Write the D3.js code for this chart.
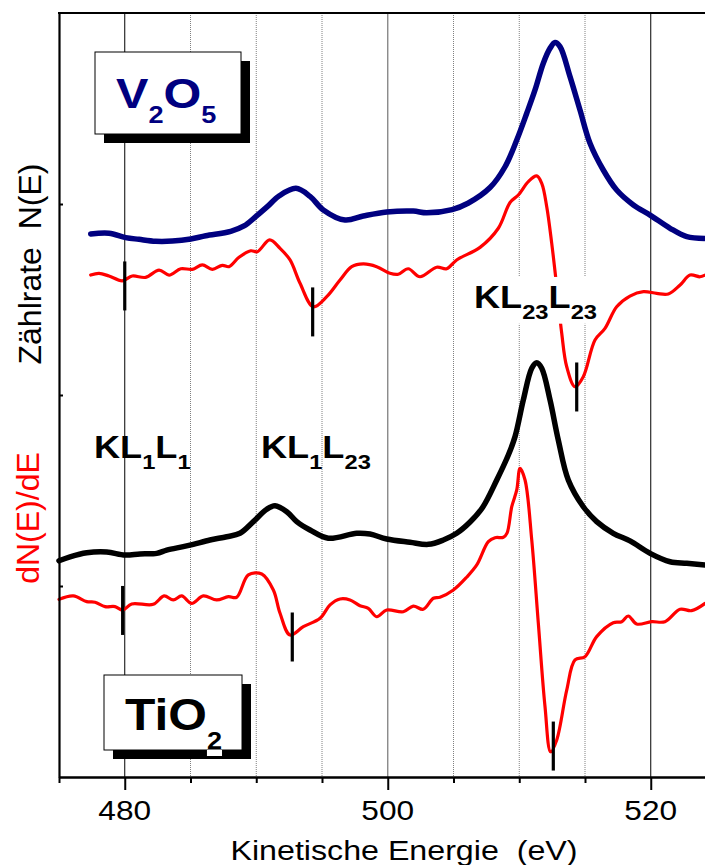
<!DOCTYPE html>
<html><head><meta charset="utf-8">
<script src="https://cdn.jsdelivr.net/npm/d3@7"></script>
<style>
html,body{margin:0;padding:0;background:#fff;}
svg{display:block;font-family:"Liberation Sans",Arial,sans-serif;}
</style></head><body>
<svg id="chart" width="705" height="865"></svg>
<script>
// ---------- data ----------
const xDomain = [475, 525];
const yDomain = [0, 4];
const majorTicks = [480, 500, 520];
const minorTicks = [475, 485, 490, 495, 505, 510, 515, 525];
const yTicks = [1, 2, 3];
const gridSolidBlack = [480, 520];
const gridSolidGray = [500];
const gridDotted = [485, 490, 495, 505, 510, 515];

// V2O5 N(E)  [energy eV, counts a.u.]
const v2o5Counts = [
 [477.41,2.843],[478.80,2.847],[480.07,2.824],[481.08,2.815],[482.35,2.805],[483.62,2.806],
 [485.02,2.817],[486.16,2.834],[488.06,2.857],[489.07,2.885],[489.96,2.934],[490.84,2.986],
 [491.73,3.042],[493.02,3.082],[494.09,3.040],[495.10,2.969],[496.75,2.916],[498.14,2.937],
 [499.92,2.958],[501.94,2.963],[502.96,2.954],[504.89,2.971],[506.10,3.004],[507.78,3.086],
 [508.92,3.195],[509.81,3.335],[510.57,3.475],[511.20,3.597],[511.83,3.737],[512.34,3.815],
 [512.72,3.845],[513.10,3.824],[513.86,3.667],[514.62,3.492],[515.38,3.318],[516.39,3.178],
 [517.41,3.073],[518.68,2.995],[519.95,2.942],[521.47,2.873],[522.74,2.829],[524.10,2.820]
];
// V2O5 dN(E)/dE
const v2o5Deriv = [
 [477.41,2.628],[478.04,2.637],[478.80,2.623],[479.81,2.598],[480.57,2.623],[481.59,2.616],
 [482.61,2.654],[483.37,2.628],[484.26,2.661],[485.14,2.658],[485.90,2.681],[486.66,2.658],
 [487.42,2.679],[487.93,2.672],[488.69,2.721],[489.58,2.755],[490.08,2.750],[491.02,2.812],
 [491.81,2.768],[492.57,2.707],[493.33,2.585],[494.34,2.462],[495.36,2.515],[496.37,2.602],
 [497.26,2.672],[498.14,2.686],[499.16,2.672],[500.17,2.637],[500.80,2.632],[501.56,2.661],
 [502.45,2.619],[503.72,2.669],[504.48,2.661],[505.24,2.707],[507.02,2.773],[508.41,2.873],
 [509.30,3.008],[509.93,3.047],[510.69,3.117],[511.33,3.147],[511.71,3.108],[512.09,2.986],
 [512.47,2.794],[512.85,2.567],[513.23,2.323],[513.61,2.148],[514.24,2.043],[514.87,2.096],
 [515.76,2.288],[516.52,2.349],[517.41,2.462],[518.42,2.518],[519.44,2.541],[520.45,2.532],
 [521.34,2.529],[522.23,2.576],[522.99,2.628],[523.75,2.619],[524.13,2.628]
];
// TiO2 N(E)
const tio2Counts = [
 [475.00,1.132],[475.84,1.153],[477.11,1.174],[478.63,1.178],[480.02,1.162],[481.16,1.168],
 [482.43,1.171],[483.19,1.188],[484.45,1.206],[485.21,1.218],[486.48,1.241],[487.75,1.258],
 [488.76,1.276],[489.78,1.337],[490.80,1.402],[491.43,1.420],[492.32,1.389],[493.08,1.337],
 [494.09,1.293],[495.48,1.250],[497.64,1.276],[498.65,1.272],[499.92,1.246],[501.69,1.229],
 [503.09,1.218],[504.23,1.241],[505.24,1.276],[506.26,1.335],[507.21,1.411],[508.29,1.555],
 [509.17,1.686],[509.68,1.782],[510.31,1.974],[510.95,2.140],[511.33,2.169],[511.71,2.140],
 [512.34,1.974],[512.97,1.764],[513.73,1.555],[514.87,1.415],[515.89,1.337],[517.15,1.276],
 [518.42,1.236],[519.95,1.171],[521.47,1.127],[522.74,1.119],[524.13,1.110]
];
// TiO2 dN(E)/dE
const tio2Deriv = [
 [475.00,0.930],[476.09,0.948],[477.11,0.918],[477.74,0.915],[478.50,0.892],[479.26,0.892],
 [479.84,0.874],[480.53,0.906],[482.17,0.904],[482.99,0.948],[483.69,0.927],[484.33,0.948],
 [485.09,0.909],[485.97,0.948],[486.99,0.927],[487.88,0.944],[488.51,0.941],[489.40,1.058],
 [490.42,1.063],[491.30,0.979],[491.81,0.857],[492.57,0.743],[493.58,0.787],[494.85,0.831],
 [495.61,0.901],[496.37,0.932],[497.13,0.927],[497.89,0.897],[498.52,0.883],[499.16,0.839],
 [499.92,0.874],[501.18,0.865],[501.94,0.895],[502.70,0.878],[503.47,0.936],[503.97,0.941],
 [504.99,0.979],[506.00,1.046],[506.77,1.110],[507.65,1.232],[508.16,1.253],[508.79,1.255],
 [509.07,1.277],[509.43,1.415],[509.81,1.503],[510.06,1.616],[510.44,1.555],[510.95,1.241],
 [511.45,0.805],[511.96,0.368],[512.39,0.132],[512.85,0.194],[513.61,0.455],[514.24,0.613],
 [515.00,0.630],[515.89,0.735],[517.15,0.808],[517.79,0.813],[518.29,0.843],[518.93,0.801],
 [520.07,0.813],[521.08,0.813],[522.23,0.878],[523.11,0.871],[524.13,0.909]
];
// peak position markers [energy, value at centre]
const v2o5Markers = [[480.00,2.571],[494.29,2.435],[514.37,2.042]];
const tio2Markers = [[479.84,0.872],[492.74,0.733],[512.59,0.162]];

// ---------- drawing ----------
const svg = d3.select("#chart");
const x = d3.scaleLinear().domain(xDomain).range([59, 716.5]);
const y = d3.scaleLinear().domain(yDomain).range([777, 13]);
const HS = 1.13; // horizontal text stretch of the original

function stretch(sel, x0, s) {
  sel.attr("transform", `translate(${x0},0) scale(${s},1) translate(${-x0},0)`);
}

// grid lines
const grid = svg.append("g");
grid.selectAll("line.gb").data(gridSolidBlack).join("line")
  .attr("x1", d => x(d)).attr("x2", d => x(d)).attr("y1", y(4)).attr("y2", y(0))
  .attr("stroke", "#000").attr("stroke-width", 1);
grid.selectAll("line.gg").data(gridSolidGray).join("line")
  .attr("x1", d => x(d)).attr("x2", d => x(d)).attr("y1", y(4)).attr("y2", y(0))
  .attr("stroke", "#808080").attr("stroke-width", 1.3);
grid.selectAll("line.gd").data(gridDotted).join("line")
  .attr("x1", d => x(d)).attr("x2", d => x(d)).attr("y1", y(4)).attr("y2", y(0))
  .attr("stroke", "#808080").attr("stroke-width", 1).attr("stroke-dasharray", "1,1");

// curves
const line = d3.line().x(d => x(d[0])).y(d => y(d[1])).curve(d3.curveCatmullRom.alpha(0.5));
const curves = svg.append("g").attr("fill", "none").attr("stroke-linejoin", "round").attr("stroke-linecap", "round");
curves.append("path").datum(v2o5Counts).attr("d", line).attr("stroke", "#000080").attr("stroke-width", 5.5);
curves.append("path").datum(v2o5Deriv).attr("d", line).attr("stroke", "#ff0000").attr("stroke-width", 3.2);
curves.append("path").datum(tio2Counts).attr("d", line).attr("stroke", "#000").attr("stroke-width", 5.5);
curves.append("path").datum(tio2Deriv).attr("d", line).attr("stroke", "#ff0000").attr("stroke-width", 3.2);

// markers
const mk = svg.append("g").attr("stroke", "#000").attr("stroke-width", 3.2);
mk.selectAll("line").data(v2o5Markers.concat(tio2Markers)).join("line")
  .attr("x1", d => x(d[0])).attr("x2", d => x(d[0]))
  .attr("y1", d => y(d[1]) - 24.5).attr("y2", d => y(d[1]) + 24.5);

// axes
const axB = svg.append("g").attr("transform", `translate(0,${y(0)})`);
axB.call(d3.axisBottom(x).tickValues(minorTicks).tickSize(6).tickSizeOuter(0).tickFormat(""));
const axB2 = svg.append("g").attr("transform", `translate(0,${y(0)})`);
axB2.call(d3.axisBottom(x).tickValues(majorTicks).tickSize(13).tickSizeOuter(0).tickFormat(""));
[axB, axB2].forEach(a => {
  a.select(".domain").attr("stroke-width", 2.2);
  a.selectAll(".tick line").attr("stroke-width", 2);
});
const axL = svg.append("g").attr("transform", `translate(${x(475)},0)`);
axL.call(d3.axisLeft(y).tickValues(yTicks).tickSize(-4).tickSizeOuter(0).tickFormat(""));
axL.select(".domain").attr("stroke-width", 2.2);
axL.selectAll(".tick line").attr("stroke-width", 2);
// top frame
svg.append("line").attr("x1", x(475) - 1).attr("x2", x(525)).attr("y1", y(4)).attr("y2", y(4))
  .attr("stroke", "#000").attr("stroke-width", 2.2);

// tick labels
svg.append("g").selectAll("text").data(majorTicks).join("text")
  .attr("x", d => x(d)).attr("y", 820).attr("text-anchor", "middle")
  .attr("font-size", 28).text(d => d)
  .each(function(d){ stretch(d3.select(this), x(d), HS); });

// axis titles
const xt = svg.append("text").attr("x", 404).attr("y", 860).attr("text-anchor", "middle")
  .attr("font-size", 28).style("white-space", "pre").text("Kinetische Energie  (eV)");
stretch(xt, 404, 1.15);
svg.append("text").attr("transform", "translate(41,264) rotate(-90)").attr("text-anchor", "middle")
  .attr("font-size", 32).style("white-space", "pre").attr("fill", "#000").text("Zählrate  N(E)");
svg.append("text").attr("transform", "translate(39,518) rotate(-90)").attr("text-anchor", "middle")
  .attr("font-size", 32).attr("fill", "#ff0000").text("dN(E)/dE");

// sample boxes
function sampleBox(bx, by, bw, bh, color, parts, tx, ty, big, small, subDy) {
  const g = svg.append("g");
  g.append("rect").attr("x", bx + 9).attr("y", by + 9).attr("width", bw).attr("height", bh).attr("fill", "#000");
  g.append("rect").attr("x", bx).attr("y", by).attr("width", bw).attr("height", bh)
    .attr("fill", "#fff").attr("stroke", "#000").attr("stroke-width", 1);
  const t = g.append("text").attr("x", tx).attr("y", ty).attr("fill", color)
    .attr("font-weight", "bold").attr("font-size", big);
  let sub = false;
  parts.forEach(p => {
    const isSub = p[1];
    const ts = t.append("tspan").text(p[0]).attr("font-size", isSub ? small : big);
    if (isSub && !sub) ts.attr("dy", subDy);
    if (!isSub && sub) ts.attr("dy", -subDy);
    sub = isSub;
  });
  stretch(t, tx, HS);
  return t;
}
sampleBox(95, 52, 146, 82, "#000080", [["V",0],["2",1],["O",0],["5",1]], 116, 108, 43, 24, 15);
const tio = sampleBox(104, 675, 138, 75, "#000", [["TiO",0],["2",1]], 125, 730, 44, 24, 19);
// white background under the subscript that overlaps the shadow
{
  const sub = tio.select("tspan:last-child").node();
  const n = sub.getNumberOfChars();
  const s = sub.getStartPositionOfChar(0).x, e = sub.getEndPositionOfChar(n - 1).x;
  tio.node().parentNode.insertBefore(
    Object.assign(document.createElementNS("http://www.w3.org/2000/svg", "rect")), tio.node());
  d3.select(tio.node().previousSibling)
    .attr("x", 125 + (s - 125) * HS).attr("y", 750).attr("width", (e - s) * HS).attr("height", 6).attr("fill", "#fff");
}

// transition labels
function transLabel(tx, ty, parts, bg) {
  const g = svg.append("g");
  const t = g.append("text").attr("x", tx).attr("y", ty).attr("fill", "#000")
    .attr("font-weight", "bold").attr("font-size", 32);
  let sub = false;
  parts.forEach(p => {
    const isSub = p[1];
    const ts = t.append("tspan").text(p[0]).attr("font-size", isSub ? 21 : 32);
    if (isSub && !sub) ts.attr("dy", 11);
    if (!isSub && sub) ts.attr("dy", -11);
    sub = isSub;
  });
  stretch(t, tx, HS);
  if (bg) {
    const b = t.node().getBBox();
    g.insert("rect", "text").attr("x", tx + (b.x - tx) * HS - 3).attr("y", b.y - 2)
      .attr("width", b.width * HS + 6).attr("height", b.height + 2).attr("fill", "#fff");
  }
}
transLabel(94, 458, [["KL",0],["1",1],["L",0],["1",1]], false);
transLabel(261, 458, [["KL",0],["1",1],["L",0],["23",1]], false);
transLabel(474, 308, [["KL",0],["23",1],["L",0],["23",1]], true);
</script>
</body></html>
